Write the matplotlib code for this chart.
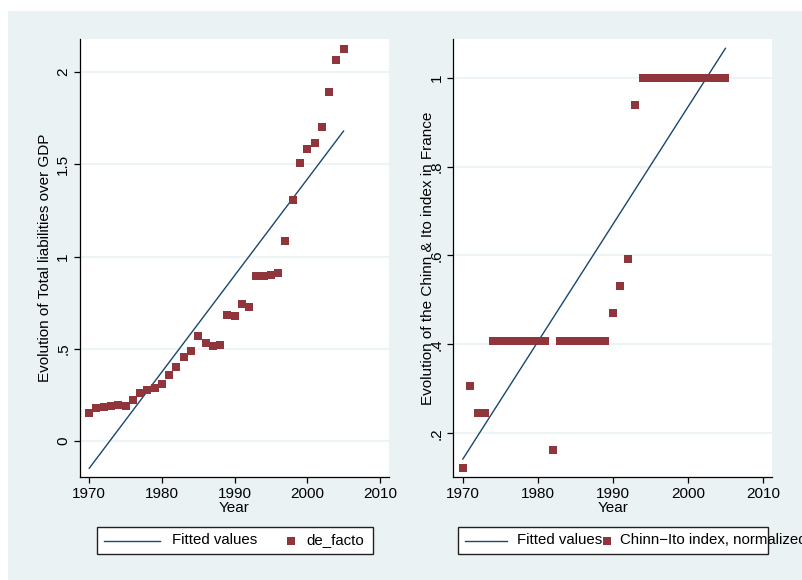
import matplotlib
matplotlib.use('Agg')
import matplotlib.pyplot as plt
from matplotlib.patches import Rectangle
from matplotlib.lines import Line2D

# data
years = list(range(1970, 2006))
de_facto = [0.150, 0.177, 0.184, 0.188, 0.193, 0.190, 0.222, 0.258, 0.277, 0.289,
            0.311, 0.358, 0.403, 0.455, 0.486, 0.569, 0.530, 0.517, 0.521, 0.685,
            0.680, 0.745, 0.728, 0.895, 0.895, 0.900, 0.913, 1.085, 1.305, 1.509,
            1.582, 1.616, 1.703, 1.894, 2.068, 2.127]
chinn_ito = [0.121, 0.306, 0.246, 0.246, 0.408, 0.408, 0.408, 0.408, 0.408, 0.408,
             0.408, 0.408, 0.162, 0.408, 0.408, 0.408, 0.408, 0.408, 0.408, 0.408,
             0.470, 0.531, 0.591, 0.939, 1.0, 1.0, 1.0, 1.0, 1.0, 1.0,
             1.0, 1.0, 1.0, 1.0, 1.0, 1.0]
fit_years = [1970, 2005]
fit_de_facto = [-0.148, 1.681]
fit_chinn_ito = [0.142, 1.066]

left_yticks = [0, 0.5, 1, 1.5, 2]
left_ylabels = ['0', '.5', '1', '1.5', '2']
right_yticks = [0.2, 0.4, 0.6, 0.8, 1.0]
right_ylabels = ['.2', '.4', '.6', '.8', '1']
xticks = [1970, 1980, 1990, 2000, 2010]

# style
plt.rcParams['font.family'] = ['Liberation Sans', 'DejaVu Sans']
bg = '#EAF2F3'
navy = '#1A476F'
maroon = '#90353B'
W, H = 802, 580
fs = 11

fig = plt.figure(figsize=(W / 100, H / 100), dpi=100, facecolor='white')
fig.patches.append(Rectangle((8 / W, 0), 1, 1 - 11 / H, transform=fig.transFigure,
                             facecolor=bg, edgecolor='none', zorder=-10))


def px(x0, y0, x1, y1):
    return [x0 / W, 1 - y1 / H, (x1 - x0) / W, (y1 - y0) / H]


def style_axes(ax, yt, yl, ylim, label, label_x):
    ax.set_facecolor('white')
    ax.set_xlim(1968.73, 2011.25)
    ax.set_ylim(*ylim)
    ax.set_xticks(xticks)
    ax.set_yticks(yt)
    ax.set_yticklabels(yl, rotation=90, va='center')
    ax.yaxis.grid(True, color=bg, linewidth=1.2)
    ax.set_axisbelow(True)
    for s in ['top', 'right']:
        ax.spines[s].set_visible(False)
    for s in ['left', 'bottom']:
        ax.spines[s].set_linewidth(0.9)
    ax.tick_params(direction='out', length=4, width=0.9, labelsize=fs, pad=3)
    ax.set_xlabel('Year', fontsize=fs, labelpad=0)
    ax.set_ylabel(label, fontsize=fs)
    ax.yaxis.set_label_coords(label_x, 0.5)


ax1 = fig.add_axes(px(80, 39, 389, 477.3))
ax1.plot(fit_years, fit_de_facto, color=navy, linewidth=1)
ax1.plot(years, de_facto, 's', color=maroon, markersize=6, markeredgewidth=0)
style_axes(ax1, left_yticks, left_ylabels, (-0.197, 2.18),
           'Evolution of Total liabilities over GDP', -0.092)

ax2 = fig.add_axes(px(453.3, 39, 772.3, 477.3))
ax2.plot(fit_years, fit_chinn_ito, color=navy, linewidth=1)
ax2.plot(years, chinn_ito, 's', color=maroon, markersize=6, markeredgewidth=0)
style_axes(ax2, right_yticks, right_ylabels, (0.101, 1.087),
           'Evolution of the Chinn & Ito index in France', -0.058)


# legends drawn by hand, Stata style (text can spill over the box)
def legend(box, line_x, text1_x, mark_x, text2_x, label2):
    x0, x1 = box
    fig.patches.append(Rectangle((x0 / W, 1 - 554 / H), (x1 - x0) / W, 27 / H,
                                 transform=fig.transFigure, facecolor='white',
                                 edgecolor='#222222', linewidth=1))
    yc = 1 - 540.5 / H
    fig.lines.append(Line2D([line_x[0] / W, line_x[1] / W], [yc, yc],
                            transform=fig.transFigure, color=navy, linewidth=1))
    fig.text(text1_x / W, yc, 'Fitted values', fontsize=10.8, va='center')
    fig.lines.append(Line2D([mark_x / W], [yc], transform=fig.transFigure,
                            marker='s', color=maroon, markersize=6, markeredgewidth=0))
    fig.text(text2_x / W, yc, label2, fontsize=10.8, va='center')


legend((97, 373), (104, 160), 172, 291, 306, 'de_facto')
legend((458, 768), (465, 507), 517, 607, 620, 'Chinn\u2212Ito index, normalized')

fig.savefig('out.png', dpi=100, facecolor='white')
